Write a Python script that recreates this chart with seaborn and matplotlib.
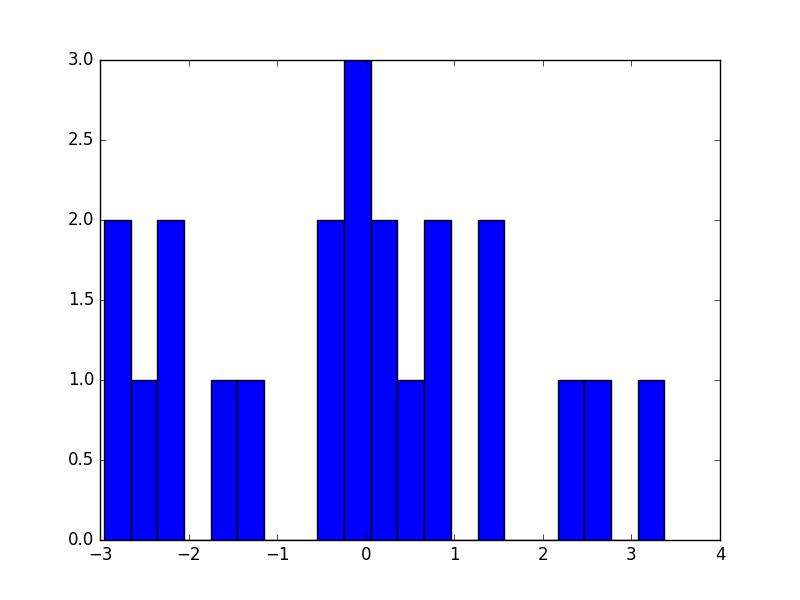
import numpy as np
import pandas as pd
import matplotlib
matplotlib.use("Agg")
import matplotlib.pyplot as plt
import seaborn as sns

# Histogram data
bin_start = -2.955
bin_end = 3.371
counts = [2, 1, 2, 0, 1, 1, 0, 0, 2, 3, 2, 1, 2, 0, 2, 0, 0, 1, 1, 0, 1]
x_ticks = [-3, -2, -1, 0, 1, 2, 3, 4]
y_ticks = [0.0, 0.5, 1.0, 1.5, 2.0, 2.5, 3.0]

edges = np.linspace(bin_start, bin_end, len(counts) + 1)
centers = (edges[:-1] + edges[1:]) / 2
df = pd.DataFrame({"value": centers, "count": counts})

plt.style.use("classic")
fig = plt.figure(figsize=(8, 6), dpi=100)
ax = fig.add_axes([0.125, 0.1, 0.775, 0.8])

sns.histplot(data=df, x="value", weights="count", bins=list(edges), ax=ax,
             color="blue", edgecolor="black", linewidth=1.0, alpha=1.0,
             stat="count")

ax.set_xlim(-3, 4)
ax.set_ylim(0, 3)
ax.set_xticks(x_ticks)
ax.set_yticks(y_ticks)
ax.set_xticklabels([f"{t:g}".replace("-", "\u2212") for t in x_ticks])
ax.set_yticklabels([f"{t:.1f}" for t in y_ticks])
ax.set_xlabel("")
ax.set_ylabel("")
ax.tick_params(direction="in", top=True, right=True, labelsize=12)

fig.savefig("out.png", dpi=100, facecolor="white")
